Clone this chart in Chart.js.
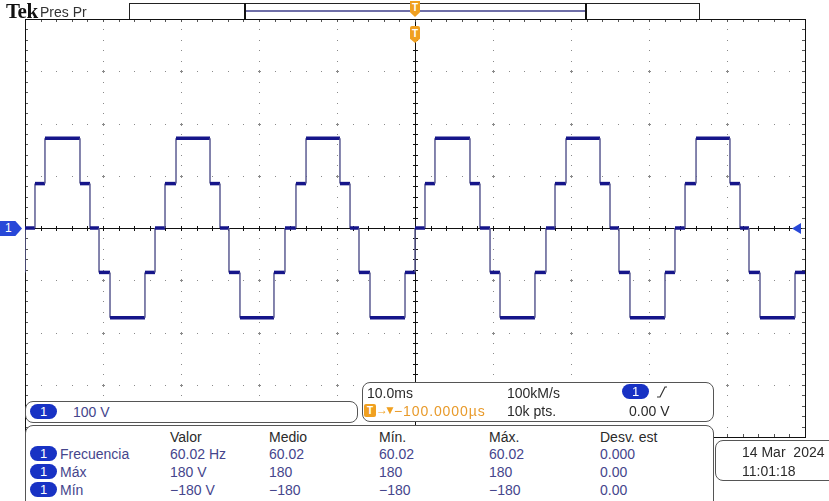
<!DOCTYPE html>
<html>
<head>
<meta charset="utf-8">
<script src="https://cdn.jsdelivr.net/npm/chart.js@4.4.1/dist/chart.umd.min.js"></script>
<style>
  html, body { margin: 0; padding: 0; background: #fff; }
  #wrap { position: relative; width: 829px; height: 501px; overflow: hidden; font-family: "Liberation Sans", Arial, sans-serif; }
  #scope { position: absolute; left: 0; top: 0; }
  .abs { position: absolute; white-space: nowrap; }
  .txt { font-size: 14px; line-height: 16px; color: #2a2a2a; }
  .val { color: #45458c; }
  .box { position: absolute; background: #fff; border: 1px solid #555; border-radius: 8px; box-sizing: border-box; }
  .pill { position: absolute; width: 27px; height: 15px; border-radius: 8px; background: #1832c4; color: #fff; font-size: 13px; line-height: 15px; text-align: center; }
  .tmark { position: absolute; width: 10px; background: #f0a020; color: #fff; font-size: 10px; font-weight: bold; text-align: center; }
</style>
</head>
<body>
<div id="wrap">
  <canvas id="scope" width="829" height="501"></canvas>

  <!-- header -->
  <div class="abs" style="left:6px; top:0px; font-family:'Liberation Serif',serif; font-weight:bold; font-size:21px; line-height:22px; color:#111; letter-spacing:-0.5px;">Tek</div>
  <div class="abs txt" style="left:40px; top:4px; color:#333;">Pres Pr</div>

  <!-- record bar -->
  <div class="abs" style="left:129px; top:3px; width:571px; height:16px; border:1px solid #222; border-bottom:none; box-sizing:border-box;"></div>
  <div class="abs" style="left:244px; top:3px; width:343px; height:16px; border-left:2px solid #111; border-right:2px solid #111; box-sizing:border-box;"></div>
  <div class="abs" style="left:246px; top:10px; width:339px; height:2px; background:#6f6fa8;"></div>
  <div class="tmark" style="left:410px; top:1px; height:16px; line-height:13px; clip-path:polygon(0 0,100% 0,100% 70%,50% 100%,0 70%);">T</div>
  <div class="tmark" style="left:410px; top:26px; height:17px; line-height:16px; border-radius:2px; clip-path:polygon(0 0,100% 0,100% 75%,50% 100%,0 75%);">T</div>

  <!-- channel markers -->
  <div class="abs" style="left:0px; top:221px; width:22px; height:15px; background:#2848d8; clip-path:polygon(0 0,70% 0,100% 50%,70% 100%,0 100%); color:#fff; font-size:12px; line-height:15px; text-indent:5px;">1</div>
  <div class="abs" style="left:792px; top:223px; width:9px; height:11px; background:#2848d8; clip-path:polygon(0 50%,100% 0,100% 100%);"></div>

  <!-- vertical scale panel -->
  <div class="box" style="left:25px; top:401px; width:333px; height:22px;"></div>
  <div class="pill" style="left:30px; top:404px;">1</div>
  <div class="abs txt val" style="left:73px; top:404px;">100 V</div>

  <!-- timebase panel -->
  <div class="box" style="left:362px; top:382px; width:352px; height:40px;"></div>
  <div class="abs txt" style="left:367px; top:385px;">10.0ms</div>
  <div class="abs txt" style="left:507px; top:385px;">100kM/s</div>
  <div class="pill" style="left:622px; top:384px;">1</div>
  <svg class="abs" style="left:656px; top:385px;" width="12" height="14"><polyline points="1,12 4,12 9,2 11,2" fill="none" stroke="#333" stroke-width="1.2"/></svg>
  <div class="abs" style="left:364px; top:404px; width:12px; height:13px; background:#f0a020; border-radius:2px; color:#fff; font-size:10px; font-weight:bold; line-height:13px; text-align:center;">T</div>
  <div class="abs txt" style="left:376px; top:402px; color:#f0a020; font-size:12px;">&#8594;</div>
  <div class="abs txt" style="left:384px; top:402px; color:#f0a020; font-size:12px;">&#9660;</div>
  <div class="abs txt" style="left:394px; top:403px; color:#e89a2a; letter-spacing:0.9px;">&#8722;100.0000&#181;s</div>
  <div class="abs txt" style="left:507px; top:403px;">10k pts.</div>
  <div class="abs txt" style="left:629px; top:403px;">0.00 V</div>

  <!-- measurement panel -->
  <div class="box" style="left:25px; top:425px; width:689px; height:90px;"></div>
  <div id="meas"></div>

  <!-- date panel -->
  <div class="box" style="left:715px; top:440px; width:130px; height:41px;"></div>
  <div class="abs txt" style="left:742px; top:444px;">14 Mar&nbsp; 2024</div>
  <div class="abs txt" style="left:742px; top:463px;">11:01:18</div>
</div>

<script>
// Horizontal / vertical settings (10 ms/div, 100 V/div)
const timeRangeMs = [-50, 50];
const timePerDiv = 10;
const voltRange = [-400, 400];
const voltPerDiv = 100;
const minorPerDiv = 5;

// Trace: level before the first edge, edge times (ms) and level after each edge (V)
const startLevel = -85;
const edgeTimesMs = [
  -50, -48.72, -47.44, -42.95, -41.67, -40.51, -39.10, -34.62, -33.33,
  -32.05, -30.64, -26.28, -25.00, -23.85, -22.44, -18.08, -16.67,
  -15.26, -13.97, -9.62, -8.33, -7.18, -5.77, -1.28, 0.00,
  1.28, 2.56, 7.05, 8.33, 9.62, 10.90, 15.38, 16.79,
  17.95, 19.36, 23.72, 25.00, 26.15, 27.56, 32.05, 33.33,
  34.62, 36.03, 40.38, 41.67, 42.82, 44.23, 48.72
];
const levelsAfterEdge = [
  0, 85, 172, 85, 0, -85, -172, -85, 0,
  85, 172, 85, 0, -85, -172, -85, 0,
  85, 172, 85, 0, -85, -172, -85, 0,
  85, 172, 85, 0, -85, -172, -85, 0,
  85, 172, 85, 0, -85, -172, -85, 0,
  85, 172, 85, 0, -85, -172, -85
];

// Measurement table
const measHeaders = ['Valor', 'Medio', 'Mín.', 'Máx.', 'Desv. est'];
const measNames = ['Frecuencia', 'Máx', 'Mín'];
const measValues = [
  ['60.02 Hz', '60.02', '60.02', '60.02', '0.000'],
  ['180 V', '180', '180', '180', '0.00'],
  ['\u2212180 V', '\u2212180', '\u2212180', '\u2212180', '0.00']
];

function buildMeasTable() {
  const cols = [170, 269, 379, 489, 600];
  const rowsY = [446, 464, 482];
  let html = '';
  measHeaders.forEach((h, i) => {
    html += `<div class="abs txt" style="left:${cols[i]}px; top:429px;">${h}</div>`;
  });
  measNames.forEach((n, r) => {
    html += `<div class="pill" style="left:30px; top:${rowsY[r]}px;">1</div>`;
    html += `<div class="abs txt val" style="left:60px; top:${rowsY[r]}px;">${n}</div>`;
    measValues[r].forEach((v, i) => {
      html += `<div class="abs txt val" style="left:${cols[i]}px; top:${rowsY[r]}px;">${v}</div>`;
    });
  });
  document.getElementById('meas').innerHTML = html;
}

function buildTrace() {
  const pts = [{ x: timeRangeMs[0], y: startLevel }];
  let prev = startLevel;
  edgeTimesMs.forEach((t, i) => {
    pts.push({ x: t, y: prev });
    pts.push({ x: t, y: levelsAfterEdge[i] });
    prev = levelsAfterEdge[i];
  });
  pts.push({ x: timeRangeMs[1], y: prev });
  return pts;
}

// Tek style graticule drawn from the chart scales
const graticule = {
  id: 'graticule',
  beforeDatasetsDraw(chart) {
    const { ctx, chartArea: a, scales: { x, y } } = chart;
    const xDivs = (timeRangeMs[1] - timeRangeMs[0]) / timePerDiv;
    const yDivs = (voltRange[1] - voltRange[0]) / voltPerDiv;
    const xMinor = [], yMinor = [];
    for (let i = 0; i <= xDivs * minorPerDiv; i++) xMinor.push(Math.round(x.getPixelForValue(timeRangeMs[0] + i * timePerDiv / minorPerDiv)));
    for (let i = 0; i <= yDivs * minorPerDiv; i++) yMinor.push(Math.round(y.getPixelForValue(voltRange[0] + i * voltPerDiv / minorPerDiv)));
    const cx = Math.round(x.getPixelForValue(0));
    const cy = Math.round(y.getPixelForValue(0));
    ctx.save();

    // dotted division lines
    ctx.fillStyle = '#8a8a8a';
    for (let i = 1; i < xDivs; i++) {
      const px = xMinor[i * minorPerDiv];
      if (px === cx) continue;
      yMinor.forEach(py => ctx.fillRect(px, py, 1, 1));
    }
    for (let j = 1; j < yDivs; j++) {
      const py = yMinor[j * minorPerDiv];
      if (py === cy) continue;
      xMinor.forEach(px => ctx.fillRect(px, py, 1, 1));
    }
    // little crosses where division lines meet
    for (let i = 1; i < xDivs; i++) {
      for (let j = 1; j < yDivs; j++) {
        const px = xMinor[i * minorPerDiv], py = yMinor[j * minorPerDiv];
        ctx.fillRect(px - 1, py, 3, 1);
        ctx.fillRect(px, py - 1, 1, 3);
      }
    }

    // centre cross with minor ticks
    ctx.fillStyle = '#111';
    ctx.fillRect(a.left, cy, a.right - a.left, 1);
    ctx.fillRect(cx, a.top, 1, a.bottom - a.top);
    xMinor.forEach(px => ctx.fillRect(px, cy - 2, 1, 5));
    yMinor.forEach(py => ctx.fillRect(cx - 2, py, 5, 1));

    // frame with edge ticks
    ctx.fillStyle = '#555';
    xMinor.forEach(px => { ctx.fillRect(px, a.top, 1, 3); ctx.fillRect(px, a.bottom - 3, 1, 3); });
    yMinor.forEach(py => { ctx.fillRect(a.left, py, 3, 1); ctx.fillRect(a.right - 3, py, 3, 1); });
    ctx.fillStyle = '#111';
    ctx.fillRect(a.left, a.top, a.right - a.left, 1);
    ctx.fillRect(a.left, a.bottom, a.right - a.left + 1, 1);
    ctx.fillRect(a.left, a.top, 1, a.bottom - a.top);
    ctx.fillRect(a.right, a.top, 1, a.bottom - a.top + 1);
    ctx.restore();
  }
};

buildMeasTable();

new Chart(document.getElementById('scope'), {
  type: 'line',
  data: {
    datasets: [{
      data: buildTrace(),
      borderColor: '#15158a',
      borderWidth: 3.5,
      pointRadius: 0,
      tension: 0,
      segment: {
        borderColor: c => c.p0.parsed.x === c.p1.parsed.x ? '#5c5c92' : '#15158a',
        borderWidth: c => c.p0.parsed.x === c.p1.parsed.x ? 1.5 : 3.5
      }
    }]
  },
  options: {
    responsive: false,
    devicePixelRatio: 1,
    animation: false,
    events: [],
    layout: { padding: { left: 25, top: 19, right: 24, bottom: 64 } },
    plugins: { legend: { display: false }, tooltip: { enabled: false } },
    scales: {
      x: { type: 'linear', display: false, min: timeRangeMs[0], max: timeRangeMs[1] },
      y: { type: 'linear', display: false, min: voltRange[0], max: voltRange[1] }
    }
  },
  plugins: [graticule]
});
</script>
</body>
</html>
